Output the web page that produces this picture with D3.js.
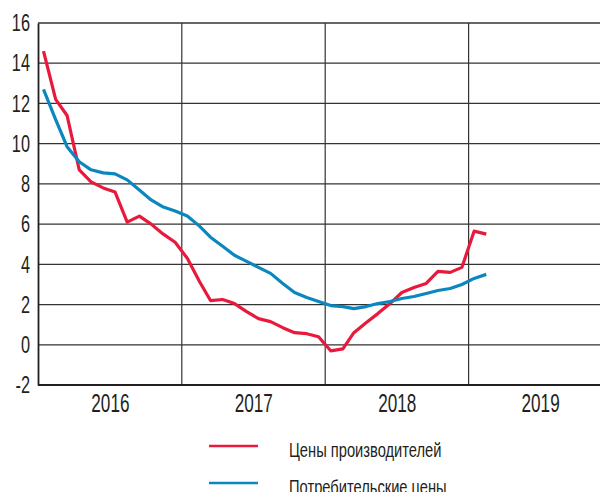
<!DOCTYPE html>
<html>
<head>
<meta charset="utf-8">
<script src="https://cdn.jsdelivr.net/npm/d3@7"></script>
<style>
  body { margin: 0; background: #fff; }
  svg text { font-family: "Liberation Sans", Arial, sans-serif; fill: #231f20; }
</style>
</head>
<body>
<svg id="svg" width="600" height="492"></svg>
<script>
// месячные данные, январь 2016 - февраль 2019
var producer = [14.6, 12.2, 11.4, 8.7, 8.1, 7.8, 7.6, 6.1, 6.4, 6.0, 5.5, 5.1,
                4.3, 3.15, 2.2, 2.25, 2.05, 1.65, 1.3, 1.15, 0.85, 0.6, 0.55, 0.4,
                -0.3, -0.2, 0.6, 1.1, 1.55, 2.05, 2.6, 2.85, 3.05, 3.65, 3.6, 3.85,
                5.65, 5.5];
var consumer = [12.7, 11.2, 9.85, 9.1, 8.7, 8.55, 8.5, 8.2, 7.7, 7.2, 6.85, 6.65,
                6.4, 5.9, 5.35, 4.9, 4.45, 4.15, 3.85, 3.55, 3.05, 2.6, 2.35, 2.15,
                1.95, 1.9, 1.8, 1.9, 2.05, 2.15, 2.3, 2.4, 2.55, 2.7, 2.8, 3.0,
                3.3, 3.5];
var years = ['2016', '2017', '2018', '2019'];
var yTicks = [-2, 0, 2, 4, 6, 8, 10, 12, 14, 16];
var seriesNames = ['Цены производителей', 'Потребительские цены'];
var seriesColors = ['#e8193c', '#0a87bf'];

var svg = d3.select('#svg');
var mLeft = 38, mTop = 23, mBottom = 385, mRight = 600;

var x = d3.scaleTime()
    .domain([new Date(2016, 0, 1), new Date(2020, 0, 1)])
    .range([mLeft, mLeft + 4 * 143.5]);
var y = d3.scaleLinear().domain([-2, 16]).range([mBottom, mTop]);

function monthDate(i) {
    return new Date(2016, i, 15);
}

// узкий шрифт: сжимаем текст по горизонтали относительно точки привязки
function condense(sel, sx) {
    sel.each(function() {
        var t = d3.select(this);
        var tx = +t.attr('x') || 0;
        t.attr('x', 0).attr('transform', 'translate(' + tx + ',0) scale(' + sx + ',1)');
    });
}

/*************** сетка ***************/
var grid = svg.append('g');

grid.selectAll('line.h').data(yTicks.slice(1)).enter().append('line')
    .attr('class', 'h')
    .attr('x1', mLeft).attr('x2', mRight)
    .attr('y1', function(d) { return y(d); })
    .attr('y2', function(d) { return y(d); })
    .attr('stroke', '#333').attr('stroke-width', 1.3);

grid.selectAll('line.v').data(years.slice(1)).enter().append('line')
    .attr('class', 'v')
    .attr('x1', function(d) { return x(new Date(+d, 0, 1)); })
    .attr('x2', function(d) { return x(new Date(+d, 0, 1)); })
    .attr('y1', mTop).attr('y2', mBottom)
    .attr('stroke', '#333').attr('stroke-width', 1.2);

// ось Y (обычный дефис вместо минуса)
var yAxis = svg.append('g')
    .attr('transform', 'translate(' + mLeft + ',0)')
    .call(d3.axisLeft(y).tickValues(yTicks).tickSize(0).tickPadding(8)
        .tickFormat(function(d) { return String(d); }));
yAxis.select('.domain').attr('stroke', '#231f20').attr('stroke-width', 1.8);
yAxis.selectAll('text').attr('font-size', 24).attr('fill', '#231f20')
    .style('font-family', null).call(condense, 0.68);

// ось X: подписи по центру года
var xAxis = svg.append('g')
    .attr('transform', 'translate(0,' + mBottom + ')')
    .call(d3.axisBottom(x)
        .tickValues(years.map(function(d) { return new Date(+d, 6, 2); }))
        .tickFormat(d3.timeFormat('%Y'))
        .tickSize(0).tickPadding(9));
xAxis.select('.domain').remove();
xAxis.selectAll('text').attr('font-size', 26).attr('fill', '#231f20')
    .style('font-family', null).call(condense, 0.66);
svg.append('line')
    .attr('x1', mLeft).attr('x2', mRight)
    .attr('y1', mBottom).attr('y2', mBottom)
    .attr('stroke', '#231f20').attr('stroke-width', 1.8);

/*************** линии ***************/
var line = d3.line()
    .x(function(d, i) { return x(monthDate(i)); })
    .y(function(d) { return y(d); });

[producer, consumer].forEach(function(s, k) {
    svg.append('path')
        .datum(s)
        .attr('fill', 'none')
        .attr('stroke', seriesColors[k])
        .attr('stroke-width', 3.2)
        .attr('stroke-linejoin', 'round')
        .attr('d', line);
});

/*************** легенда ***************/
var legend = svg.append('g');
seriesNames.forEach(function(name, k) {
    var ly = 446 + k * 37;
    legend.append('line')
        .attr('x1', 209).attr('x2', 258)
        .attr('y1', ly).attr('y2', ly)
        .attr('stroke', seriesColors[k]).attr('stroke-width', 2.5);
    legend.append('text')
        .attr('x', 289).attr('y', ly + 11)
        .attr('font-size', 21)
        .text(name)
        .call(condense, 0.7);
});
</script>
</body>
</html>
